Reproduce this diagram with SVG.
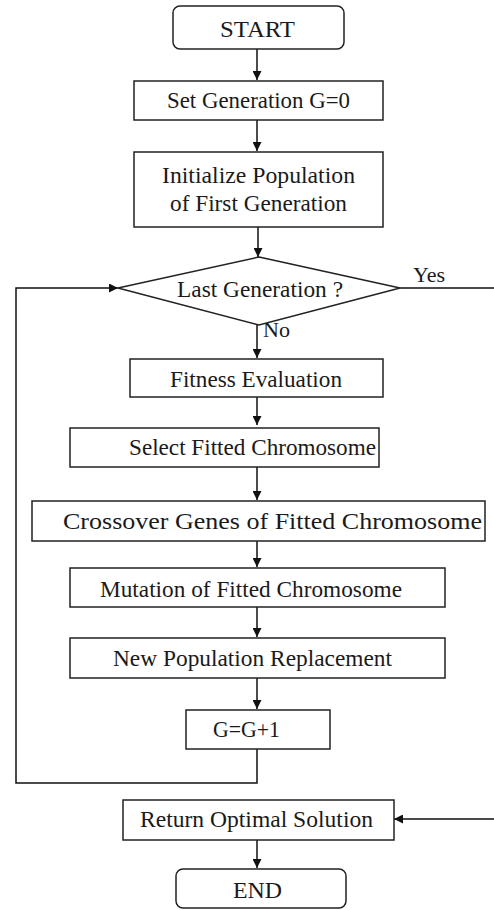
<svg xmlns="http://www.w3.org/2000/svg" width="494" height="910" viewBox="0 0 494 910">
<defs>
<marker id="ah" viewBox="0 0 10 10" refX="10" refY="5" markerWidth="9" markerHeight="9" markerUnits="userSpaceOnUse" orient="auto">
<path d="M0,0 L10,5 L0,10 z" fill="#111"/>
</marker>
<style>
.box{fill:#fff;stroke:#222;stroke-width:1.5}
.t{font-family:"Liberation Serif","Times New Roman",serif;font-size:23px;fill:#1a1a1a;text-anchor:middle}
.lbl{font-family:"Liberation Serif","Times New Roman",serif;font-size:22px;fill:#1a1a1a}
.c{fill:none;stroke:#111;stroke-width:1.5}
</style>
</defs>
<rect width="494" height="910" fill="#fff"/>
<g id="connectors">
<path class="c" d="M257,49 V80" marker-end="url(#ah)"/>
<path class="c" d="M257,120 V151" marker-end="url(#ah)"/>
<path class="c" d="M258,227 V257" marker-end="url(#ah)"/>
<path class="c" d="M257,325 V358" marker-end="url(#ah)"/>
<path class="c" d="M257,397 V425" marker-end="url(#ah)"/>
<path class="c" d="M257,467 V500" marker-end="url(#ah)"/>
<path class="c" d="M257,541 V567" marker-end="url(#ah)"/>
<path class="c" d="M257,607 V637" marker-end="url(#ah)"/>
<path class="c" d="M257,678 V709" marker-end="url(#ah)"/>
<path class="c" d="M257,749 V783 H16 V288 H118" marker-end="url(#ah)"/>
<path class="c" d="M400,288 H497 V819 H394" marker-end="url(#ah)"/>
<path class="c" d="M257,840 V868" marker-end="url(#ah)"/>
<text class="lbl" x="413" y="282" textLength="32" lengthAdjust="spacingAndGlyphs">Yes</text>
<text class="lbl" x="263" y="337" textLength="27" lengthAdjust="spacingAndGlyphs">No</text>
</g>
<g id="start">
<rect class="box" x="173" y="6" width="171" height="43" rx="7"/>
<text class="t" x="257.5" y="37" textLength="75" lengthAdjust="spacingAndGlyphs">START</text>
</g>
<g id="set-generation">
<rect class="box" x="134" y="81" width="249" height="39"/>
<text class="t" x="258.5" y="108" textLength="183" lengthAdjust="spacingAndGlyphs">Set Generation G=0</text>
</g>
<g id="initialize">
<rect class="box" x="134" y="152" width="249" height="75"/>
<text class="t" x="258.5" y="183" textLength="193" lengthAdjust="spacingAndGlyphs">Initialize Population</text>
<text class="t" x="258.5" y="211" textLength="177" lengthAdjust="spacingAndGlyphs">of First Generation</text>
</g>
<g id="last-generation">
<polygon class="box" points="259,257 400,288 259,325 118,288"/>
<text class="t" x="260" y="297" textLength="166" lengthAdjust="spacingAndGlyphs">Last Generation ?</text>
</g>
<g id="fitness">
<rect class="box" x="130" y="359" width="253" height="38"/>
<text class="t" x="256" y="387" textLength="172" lengthAdjust="spacingAndGlyphs">Fitness Evaluation</text>
</g>
<g id="select">
<rect class="box" x="70" y="428" width="309" height="39"/>
<text class="t" x="252.5" y="455" textLength="247" lengthAdjust="spacingAndGlyphs">Select Fitted Chromosome</text>
</g>
<g id="crossover">
<rect class="box" x="32" y="501" width="453" height="40"/>
<text class="t" x="272.5" y="529" textLength="419" lengthAdjust="spacingAndGlyphs">Crossover Genes of Fitted Chromosome</text>
</g>
<g id="mutation">
<rect class="box" x="70" y="568" width="375" height="39"/>
<text class="t" x="251" y="597" textLength="302" lengthAdjust="spacingAndGlyphs">Mutation of Fitted Chromosome</text>
</g>
<g id="new-population">
<rect class="box" x="70" y="638" width="375" height="40"/>
<text class="t" x="252.5" y="666" textLength="279" lengthAdjust="spacingAndGlyphs">New Population Replacement</text>
</g>
<g id="increment">
<rect class="box" x="186" y="710" width="144" height="39"/>
<text class="t" x="246.5" y="737" textLength="67" lengthAdjust="spacingAndGlyphs">G=G+1</text>
</g>
<g id="return">
<rect class="box" x="123" y="800" width="271" height="40"/>
<text class="t" x="256.5" y="827" textLength="233" lengthAdjust="spacingAndGlyphs">Return Optimal Solution</text>
</g>
<g id="end">
<rect class="box" x="176" y="869" width="170" height="39" rx="7"/>
<text class="t" x="257.5" y="898" textLength="49" lengthAdjust="spacingAndGlyphs">END</text>
</g>
</svg>
